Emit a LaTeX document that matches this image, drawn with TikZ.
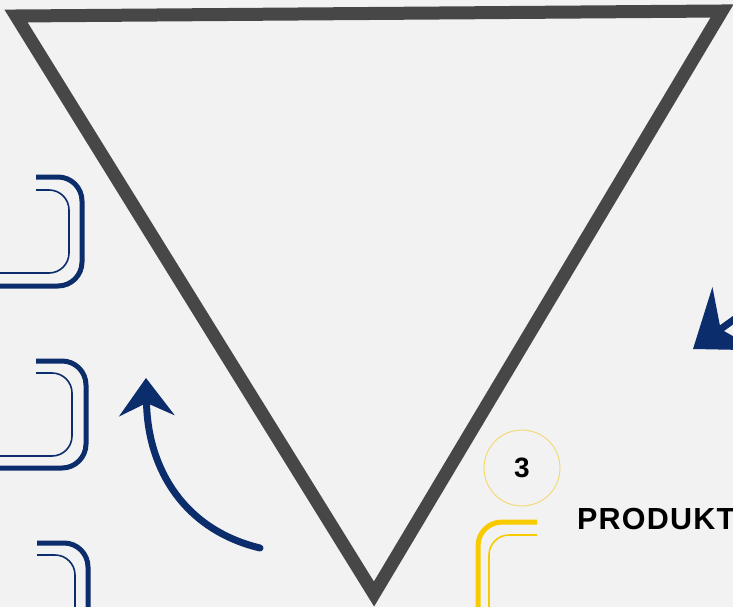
\documentclass[tikz,border=0pt]{standalone}
\usepackage{fontspec}
\setmainfont{Liberation Sans}
\usepackage{xcolor}
\usetikzlibrary{arrows.meta, positioning, calc}

\definecolor{bgGray}{HTML}{F2F2F2}
\definecolor{funnelGray}{HTML}{474747}
\definecolor{navy}{HTML}{0B2D6B}
\definecolor{gold}{HTML}{F8CB00}
\definecolor{paleGold}{HTML}{F3D86E}

\begin{document}
\begin{tikzpicture}[x=1pt, y=-1pt,
    thickbracket/.style={line width=5pt, line cap=butt, rounded corners=24pt},
    thinbracket/.style={line width=1.6pt, line cap=butt, rounded corners=20pt},
    handarrow/.style={navy, line width=7pt, line cap=round,
      -{Stealth[length=38pt, width=56pt, inset=13pt, line width=0pt]}}]
  % Background and frame
  \fill[bgGray] (0,0) rectangle (733,607);
  \useasboundingbox (0,0) rectangle (733,607);
  \clip (0,0) rectangle (733,607);

  % Funnel vertices
  \coordinate (TL) at (16,16);
  \coordinate (TR) at (722,11);
  \coordinate (B) at (374,594);

  % Draw funnel
  \draw[funnelGray, line width=13pt, line join=miter] (TL) -- (TR) -- (B) -- cycle;

  % Left brackets
  \draw[navy, thickbracket] (36,177) -- (82,177) -- (82,286) -- (-5,286);
  \draw[navy, thinbracket] (36,190) -- (69,190) -- (69,273) -- (-5,273);
  \draw[navy, thickbracket] (36,361) -- (86,361) -- (86,468) -- (-5,468);
  \draw[navy, thinbracket] (36,373) -- (72,373) -- (72,456) -- (-5,456);
  \draw[navy, thickbracket] (37,543) -- (88,543) -- (88,640);
  \draw[navy, thinbracket] (37,555) -- (75,555) -- (75,640);

  % Curved arrows
  \coordinate (tailA) at (260,548);
  \coordinate (tipA) at (146,378);
  \draw[handarrow] (tailA) .. controls (185,530) and (148,470) .. (tipA);
  \coordinate (tailB) at (800,272);
  \coordinate (tipB) at (693,349);
  \draw[handarrow, -{Stealth[length=52pt, width=78pt, inset=18pt, line width=0pt]}] (tailB) -- (tipB);

  % Step marker
  \node[circle, draw=paleGold, line width=0.9pt, minimum size=76pt, inner sep=0pt,
    font=\fontsize{28}{28}\selectfont\bfseries] (stepThree) at (522,468) {3};

  % Yellow bracket
  \draw[gold, thickbracket] (537,522) -- (478,522) -- (478,640);
  \draw[gold, thinbracket] (537,535) -- (489,535) -- (489,640);

  % Label
  \node[anchor=base west, inner sep=0pt,
    font=\fontsize{30.5}{30.5}\selectfont\bfseries\addfontfeature{LetterSpace=4}]
    (prodLabel) at (577,529) {PRODUKT};
\end{tikzpicture}
\end{document}
